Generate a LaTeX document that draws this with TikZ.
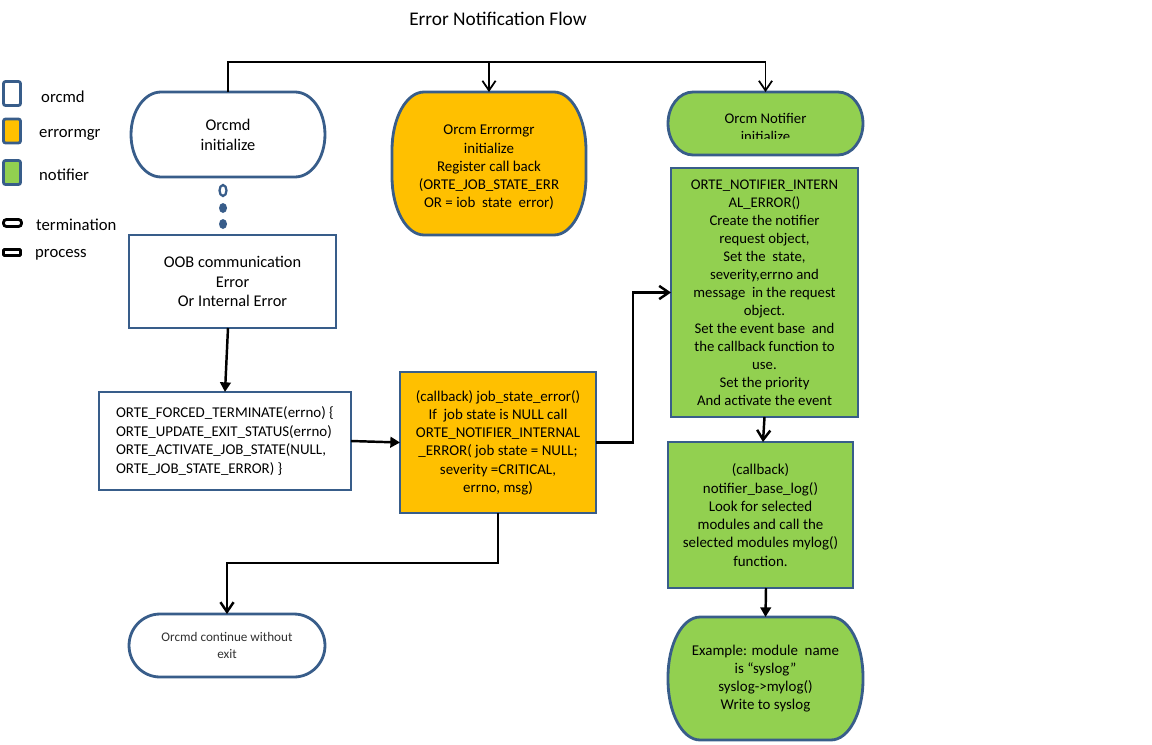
\documentclass[tikz,border=0pt]{standalone}
\usepackage{fontspec}
\setmainfont{Carlito}
\usetikzlibrary{arrows.meta,calc}
\pgfdeclarelayer{background}
\pgfsetlayers{background,main}
\definecolor{bord}{RGB}{56,93,138}
\definecolor{orng}{RGB}{255,192,0}
\definecolor{grn}{RGB}{146,208,80}
\definecolor{dtxt}{RGB}{50,50,50}
% oval outline behind a named node: name, x radius, y radius, fill
\newcommand\ovalbg[4]{%
\begin{pgfonlayer}{background}
\draw[draw=bord,line width=1.6pt,fill=#4]
 ([xshift=#2]#1.north west) -- ([xshift=-#2]#1.north east)
 arc[start angle=90,end angle=0,x radius=#2,y radius=#3] -- ([yshift=#3]#1.south east)
 arc[start angle=0,end angle=-90,x radius=#2,y radius=#3] -- ([xshift=#2]#1.south west)
 arc[start angle=-90,end angle=-180,x radius=#2,y radius=#3] -- ([yshift=-#3]#1.north west)
 arc[start angle=180,end angle=90,x radius=#2,y radius=#3] -- cycle;
\end{pgfonlayer}}
\begin{document}
\begin{tikzpicture}[x=0.02cm,y=0.02cm,
 txt/.style={font=\fontsize{8.5}{10.4}\selectfont,align=center},
 procbox/.style={txt,draw=bord,line width=1.6pt,rectangle,inner sep=0pt,outer sep=0pt},
 ovalnode/.style={txt,rectangle,inner sep=0pt,outer sep=0pt},
 legsq/.style={draw=bord,line width=1.6pt,rounded corners=1.2pt,minimum width=0.34cm,minimum height=0.48cm,inner sep=0pt},
 legshape/.style={draw=black,line width=1.6pt,inner sep=0pt},
 legtxt/.style={anchor=west,font=\fontsize{9.5}{11}\selectfont},
 conn/.style={line width=1.4pt},
 openarr/.style={conn,-{Straight Barb[length=5.5pt,width=7.5pt]}},
 fillarr/.style={conn,-{Triangle[length=5.5pt,width=6pt]}}
]
\useasboundingbox (0,0) rectangle (1152,-744);

% title
\node[font=\fontsize{11}{13}\selectfont] (title) at (498,-19) {Error Notification Flow};

% legend
\node[legsq,fill=white] (lgorcmd) at (12,-93.5) {};
\node[legsq,fill=orng] (lgerr) at (12,-131) {};
\node[legsq,fill=grn] (lgnot) at (12,-172.5) {};
\node[legshape,rounded corners=1.7pt,minimum width=0.36cm,minimum height=0.14cm] (lgterm) at (12.5,-223) {};
\node[legshape,rounded corners=0.5pt,minimum width=0.34cm,minimum height=0.12cm] (lgproc) at (12,-252.5) {};
\node[legtxt] (lt1) at (35,-97) {orcmd};
\node[legtxt] (lt2) at (33,-135) {errormgr};
\node[legtxt] (lt3) at (33,-175) {notifier};
\node[legtxt] (lt4) at (30,-225) {termination};
\node[legtxt] (lt5) at (29,-255) {process};

% orcmd initialize
\node[ovalnode,minimum width=3.88cm,minimum height=1.7cm,font=\fontsize{9.3}{11.3}\selectfont] (orcmdinit) at (228,-134.5) {Orcmd\\initialize};
\ovalbg{orcmdinit}{0.6cm}{0.85cm}{white}

% dots
\draw[bord,line width=1.3pt] (223,-190.5) ellipse[x radius=3.5,y radius=5.5];
\fill[bord] (223,-208) ellipse[x radius=4,y radius=5];
\fill[bord] (223,-224) ellipse[x radius=4,y radius=5];

% errormgr initialize
\node[ovalnode,minimum width=3.88cm,minimum height=2.86cm] (errinit) at (489,-163.5) {};
\ovalbg{errinit}{0.64cm}{1.16cm}{orng}
\node[txt] (errinittxt) at (489,-167.5) {Orcm Errormgr\\initialize\\Register call back\\(ORTE\_JOB\_STATE\_ERR\\OR = iob\ \ state\ \ error)};

% notifier initialize
\node[ovalnode,minimum width=3.9cm,minimum height=1.26cm] (notinit) at (765.5,-123.5) {};
\ovalbg{notinit}{0.5cm}{0.63cm}{grn}
\begin{scope}
\clip (668,-92) rectangle (863,-138.5);
\node[txt,font=\fontsize{8.4}{10.6}\selectfont] (notinittxt) at (765.5,-127.5) {Orcm Notifier\\initialize};
\end{scope}

% OOB
\node[procbox,fill=white,minimum width=4.14cm,minimum height=1.86cm,font=\fontsize{9.3}{11.3}\selectfont] (oob) at (232.5,-281.5) {OOB communication\\Error\\Or Internal Error};

% notifier internal error box
\node[procbox,fill=grn,minimum width=3.74cm,minimum height=4.98cm,font=\fontsize{8.4}{10.25}\selectfont] (notbox) at (764.5,-292.5) {ORTE\_NOTIFIER\_INTERN\\AL\_ERROR()\\Create the notifier\\request object,\\Set the\ \ state,\\severity,errno and\\message\ \ in the request\\object.\\Set the event base\ \ and\\the callback function to\\use.\\Set the priority\\And activate the event};

% forced terminate
\node[procbox,fill=white,minimum width=5.04cm,minimum height=1.96cm,align=left,font=\fontsize{8.5}{10.6}\selectfont] (force) at (225,-441) {ORTE\_FORCED\_TERMINATE(errno) \{\\ORTE\_UPDATE\_EXIT\_STATUS(errno)\\ORTE\_ACTIVATE\_JOB\_STATE(NULL,\\ORTE\_JOB\_STATE\_ERROR) \}};

% callback job_state_error
\node[procbox,fill=orng,minimum width=3.92cm,minimum height=2.82cm] (cb) at (498,-442.5) {(callback) job\_state\_error()\\If\ \ job state is NULL call\\ORTE\_NOTIFIER\_INTERNAL\\\_ERROR( job state = NULL;\\severity =CRITICAL,\\errno, msg)};

% base log
\node[procbox,fill=grn,minimum width=3.7cm,minimum height=2.92cm] (baselog) at (760.5,-515) {(callback)\\notifier\_base\_log()\\Look for selected\\modules and call the\\selected modules mylog()\\function.};

% example
\node[ovalnode,minimum width=3.9cm,minimum height=2.46cm] (example) at (765.5,-678.5) {Example: module\ \ name\\is “syslog”\\syslog->mylog()\\Write to syslog};
\ovalbg{example}{0.64cm}{1.2cm}{grn}

% continue
\node[ovalnode,minimum width=3.92cm,minimum height=1.26cm,font=\fontsize{7.5}{9.4}\selectfont,text=dtxt] (cont) at (227,-645.5) {Orcmd continue without\\exit};
\ovalbg{cont}{0.62cm}{0.63cm}{white}

% connectors
\draw[openarr,line width=1pt] (orcmdinit.north) -- ++(0,30) -| (notinit.north);
\draw[openarr,line width=1pt] ([yshift=0.6cm]errinit.north) -- (errinit.north);
\draw[fillarr] ([xshift=-0.09cm]oob.south) -- (force.north);
\draw[fillarr] (force.east) -- (cb.west);
\draw[openarr] (cb.east) -- ++(37,0) |- (notbox.west);
\draw[openarr] (notbox.south) -- ([xshift=0.05cm]baselog.north);
\draw[fillarr] ([xshift=0.11cm]baselog.south) -- (example.north);
\draw[openarr] (cb.south) -- ++(0,-50) -| (cont.north);
\end{tikzpicture}
\end{document}
